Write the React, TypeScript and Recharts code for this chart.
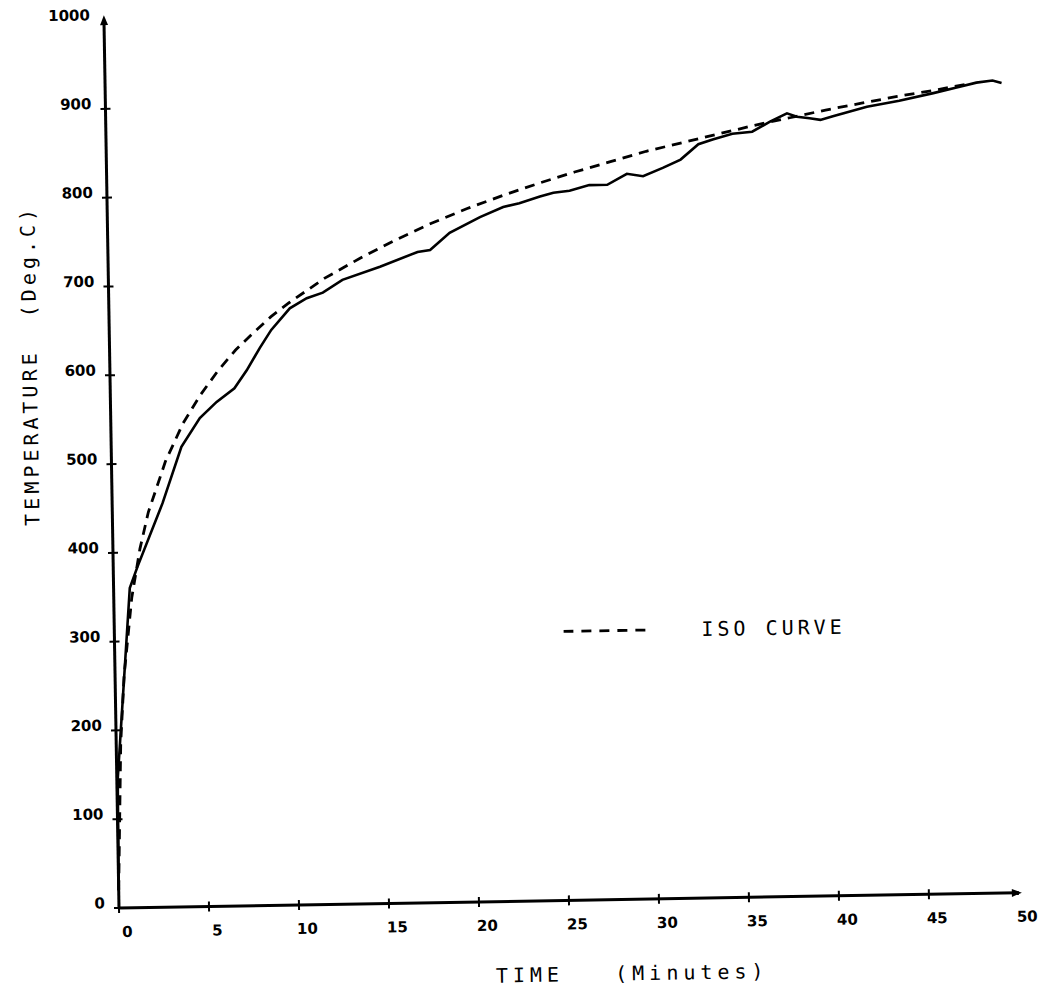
import { LineChart, Line, XAxis, YAxis, Legend, Label } from "recharts";

// measured furnace temperature (solid line)
const measuredTime = [
  0, 0.05, 0.9, 1.35, 2.8, 3.9, 4.95, 5.9, 6.9, 7.6, 8.35, 9.0, 10.05, 11.0, 11.9,
  13.0, 15.1, 17.2, 17.9, 19.0, 20.7, 22.0, 22.9, 24.05, 24.8, 25.7, 26.8, 27.8,
  28.9, 29.8, 30.9, 31.9, 32.9, 33.7, 34.8, 35.9, 36.9, 37.85, 38.4, 39.1, 39.7,
  40.4, 42.3, 44.1, 46.0, 47.3, 48.4, 49.3, 49.8,
];
const measuredTemp = [
  20, 145, 360, 384, 455, 518, 550, 568, 583, 603, 628, 648, 672, 683, 689,
  703, 717, 733, 735, 754, 771, 782, 786, 793, 797, 799, 805, 805,
  817, 814, 823, 832, 849, 854, 860, 862, 873, 882, 878, 876, 874,
  878, 888, 894, 902, 908, 913, 915, 912,
];

// ISO standard curve (dashed line)
const isoTime = [
  0, 0.25, 0.5, 1, 1.5, 2, 3, 4, 5, 6, 7, 8, 9, 10, 12, 14, 16, 18, 20, 22, 24,
  26, 28, 30, 32, 34, 36, 38, 40, 42, 44, 46, 48,
];
const isoTemp = [
  20, 185, 261, 349, 404, 445, 502, 544, 576, 603, 626, 645, 663, 678, 705, 727,
  747, 765, 781, 795, 808, 820, 831, 842, 851, 860, 869, 877, 885, 892, 899, 905, 912,
];

const xTicks = [0, 5, 10, 15, 20, 25, 30, 35, 40, 45, 50];
const yTicks = [0, 100, 200, 300, 400, 500, 600, 700, 800, 900, 1000];

const measured = measuredTime.map((t, i) => ({ t, temp: measuredTemp[i] }));
const iso = isoTime.map((t, i) => ({ t, temp: isoTemp[i] }));

const tickFont = { fontFamily: "DejaVu Sans", fontWeight: "bold", fontSize: 15 } as const;
const titleFont = {
  fontFamily: "DejaVu Sans Mono",
  fontSize: 20,
  letterSpacing: 4,
  whiteSpace: "pre",
} as const;

function XTick(props: any) {
  const { x, y, payload } = props;
  const v = payload.value;
  return (
    <g>
      {v === 50 ? (
        <polygon points={`${x + 3},${y} ${x - 7},${y - 4} ${x - 7},${y + 4}`} fill="#000" />
      ) : (
        <line x1={x} x2={x} y1={y - 5} y2={y + 5} stroke="#000" strokeWidth={2} />
      )}
      <text x={x + 8} y={y + 24} textAnchor="middle" dominantBaseline="central" fill="#000" style={tickFont}>
        {v}
      </text>
    </g>
  );
}

function YTick(props: any) {
  const { x, y, payload } = props;
  const v = payload.value;
  return (
    <g>
      {v === 1000 ? (
        <polygon points={`${x},${y - 5} ${x - 4},${y + 5} ${x + 4},${y + 5}`} fill="#000" />
      ) : (
        <line x1={x - 5} x2={x + 5} y1={y} y2={y} stroke="#000" strokeWidth={2} />
      )}
      <text x={x - 14} y={y - 5} textAnchor="end" dominantBaseline="central" fill="#000" style={tickFont}>
        {v}
      </text>
    </g>
  );
}

function IsoLegend() {
  return (
    <div style={{ display: "flex", alignItems: "center" }}>
      <svg width={84} height={6}>
        <line x1={0} x2={84} y1={3} y2={3} stroke="#000" strokeWidth={2.8} strokeDasharray="10 8" />
      </svg>
      <span style={{ ...titleFont, marginLeft: 54, color: "#000" }}>ISO CURVE</span>
    </div>
  );
}

export default function App() {
  return (
    <div
      style={{
        position: "absolute",
        left: 0,
        top: 0,
        width: 1039,
        height: 992,
        overflow: "hidden",
        background: "#fff",
      }}
    >
      {/* the scanned plot sits about one degree off square */}
      <div style={{ transform: "rotate(-0.97deg)", transformOrigin: "119px 908px" }}>
        <LineChart width={1039} height={992} margin={{ top: 20, right: 20, left: 59, bottom: 24 }}>
          <XAxis
            dataKey="t"
            type="number"
            domain={[0, 50]}
            ticks={xTicks}
            height={60}
            axisLine={{ stroke: "#000", strokeWidth: 3 }}
            tickLine={false}
            tickSize={0}
            tickMargin={0}
            tick={<XTick />}
            interval={0}
          >
            <Label
              content={(p: any) => {
                const vb = p.viewBox;
                return (
                  <text
                    x={vb.x + vb.width / 2 + 62}
                    y={vb.y + 74}
                    textAnchor="middle"
                    dominantBaseline="central"
                    fill="#000"
                    style={{ ...titleFont, letterSpacing: 5 }}
                  >
                    {"TIME   (Minutes)"}
                  </text>
                );
              }}
            />
          </XAxis>
          <YAxis
            type="number"
            domain={[0, 1000]}
            ticks={yTicks}
            width={60}
            axisLine={{ stroke: "#000", strokeWidth: 3 }}
            tickLine={false}
            tickSize={0}
            tickMargin={0}
            tick={<YTick />}
            interval={0}
          >
            <Label
              content={(p: any) => {
                const vb = p.viewBox;
                const cx = vb.x - 20;
                const cy = 364;
                return (
                  <text
                    x={cx}
                    y={cy}
                    transform={`rotate(-90 ${cx} ${cy})`}
                    textAnchor="middle"
                    dominantBaseline="central"
                    fill="#000"
                    style={titleFont}
                  >
                    {"TEMPERATURE  (Deg.C)"}
                  </text>
                );
              }}
            />
          </YAxis>
          <Legend
            layout="horizontal"
            verticalAlign="middle"
            align="center"
            content={<IsoLegend />}
            wrapperStyle={{ left: 568, top: 627, width: "auto" }}
          />
          <Line
            data={iso}
            dataKey="temp"
            type="linear"
            stroke="#000"
            strokeWidth={2.8}
            strokeDasharray="10 7"
            dot={false}
            isAnimationActive={false}
          />
          <Line
            data={measured}
            dataKey="temp"
            type="linear"
            stroke="#000"
            strokeWidth={2.6}
            dot={false}
            isAnimationActive={false}
          />
        </LineChart>
      </div>
    </div>
  );
}
